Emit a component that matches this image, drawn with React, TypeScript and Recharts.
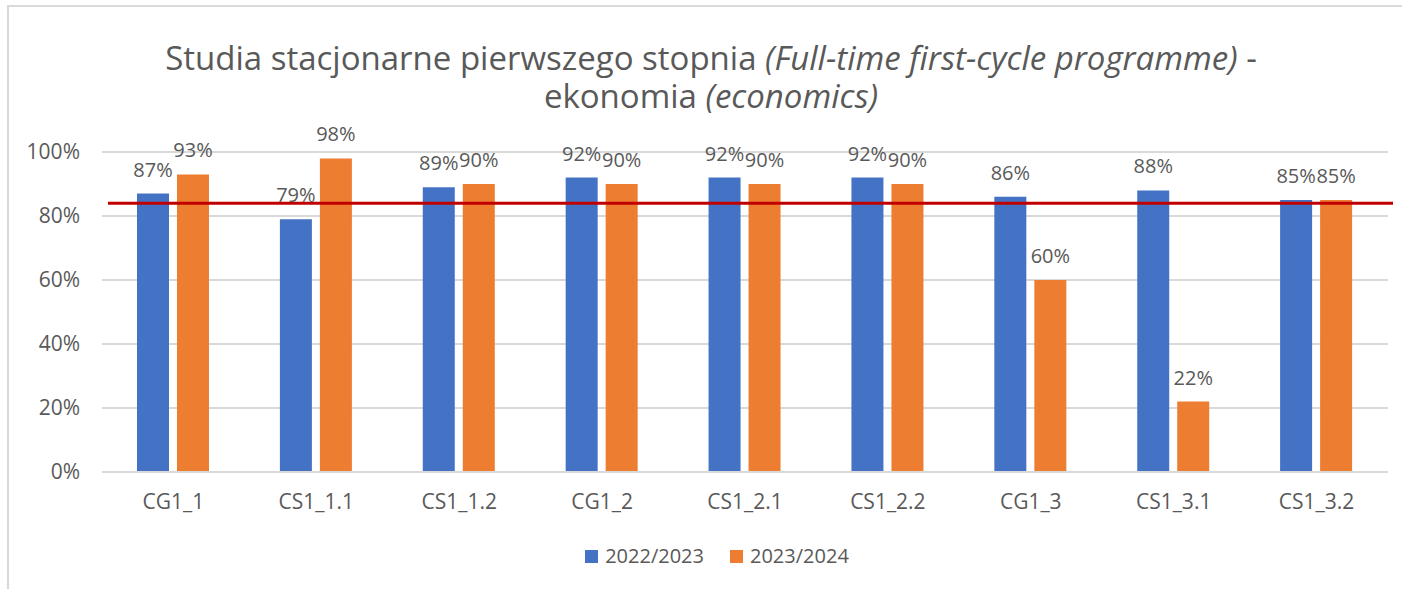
import React from 'react';
import { BarChart, Bar, XAxis, YAxis, CartesianGrid, ReferenceLine, LabelList } from 'recharts';

const categories = ['CG1_1', 'CS1_1.1', 'CS1_1.2', 'CG1_2', 'CS1_2.1', 'CS1_2.2', 'CG1_3', 'CS1_3.1', 'CS1_3.2'];
const series2022 = [87, 79, 89, 92, 92, 92, 86, 88, 85];
const series2023 = [93, 98, 90, 90, 90, 90, 60, 22, 85];
const yTicks = [0, 20, 40, 60, 80, 100];
const targetValue = 84;
const seriesNames = ['2022/2023', '2023/2024'];

const data = categories.map((c, i) => ({ name: c, a: series2022[i], b: series2023[i] }));

const FONT = "'Open Sans', Lato, sans-serif";
const TEXT = '#595959';
const BLUE = '#4472c4';
const ORANGE = '#ed7d31';

const pct = (v: number) => `${v}%`;

const ib: React.CSSProperties = { display: 'inline-block', height: 38, lineHeight: '38px', overflow: 'visible', verticalAlign: 'top' };

export default function App() {
  return (
    <div style={{ position: 'fixed', left: 0, top: 0, width: 1402, height: 589, overflow: 'hidden', background: '#fff' }}>
      <div style={{ position: 'absolute', left: 7, top: 5, width: 1420, height: 620, borderTop: '2px solid #d9d9d9', borderLeft: '2px solid #d9d9d9' }} />
      <div style={{ position: 'absolute', left: 0, top: 39, width: 1422, textAlign: 'center', fontFamily: FONT, fontSize: 33, color: TEXT, lineHeight: '38px' }}>
        <div style={{ height: 38 }}>
          <span style={ib}>Studia stacjonarne pierwszego stopnia</span>{' '}
          <span style={{ ...ib, fontStyle: 'italic' }}>(Full-time first-cycle programme)</span>{' '}
          <span style={ib}>-</span>
        </div>
        <div style={{ height: 38 }}>
          <span style={ib}>ekonomia</span>{' '}
          <span style={{ ...ib, fontStyle: 'italic' }}>(economics)</span>
        </div>
      </div>
      <div style={{ position: 'absolute', left: 0, top: 0 }}>
        <BarChart
          width={1402}
          height={589}
          data={data}
          margin={{ top: 152, right: 14, left: 0, bottom: 87 }}
          barSize={32}
          barGap={8}
        >
          <CartesianGrid vertical={false} stroke="#d9d9d9" strokeWidth={2} />
          <XAxis
            dataKey="name"
            height={30}
            axisLine={{ stroke: '#d9d9d9', strokeWidth: 2 }}
            tickLine={false}
            tickMargin={16}
            tick={{ fill: TEXT, fontSize: 21, fontFamily: FONT }}
            interval={0}
          />
          <YAxis
            width={102}
            domain={[0, 100]}
            ticks={yTicks}
            tickFormatter={pct}
            axisLine={false}
            tickLine={false}
            tickMargin={16}
            tick={{ fill: TEXT, fontSize: 21, fontFamily: FONT }}
          />
          <Bar dataKey="a" name={seriesNames[0]} fill={BLUE} isAnimationActive={false}>
            <LabelList dataKey="a" position="top" offset={17} formatter={pct} style={{ fill: TEXT, fontSize: 20, fontFamily: FONT }} />
          </Bar>
          <Bar dataKey="b" name={seriesNames[1]} fill={ORANGE} isAnimationActive={false}>
            <LabelList dataKey="b" position="top" offset={17} formatter={pct} style={{ fill: TEXT, fontSize: 20, fontFamily: FONT }} />
          </Bar>
          <ReferenceLine
            y={targetValue}
            ifOverflow="visible"
            shape={(p: any) => (
              <line x1={p.x1 + 6} y1={p.y1} x2={p.x2 + 5} y2={p.y2} stroke="#c00000" strokeWidth={3} />
            )}
          />
        </BarChart>
      </div>
      <div style={{ position: 'absolute', left: 0, top: 542, width: 1434, display: 'flex', justifyContent: 'center', alignItems: 'center', fontFamily: FONT, fontSize: 20, color: TEXT, lineHeight: '28px' }}>
        {[BLUE, ORANGE].map((col, i) => (
          <div key={i} style={{ display: 'flex', alignItems: 'center', marginRight: i === 0 ? 26 : 0 }}>
            <span style={{ display: 'inline-block', width: 13, height: 13, background: col, marginRight: 7 }} />
            <span>{seriesNames[i]}</span>
          </div>
        ))}
      </div>
    </div>
  );
}
